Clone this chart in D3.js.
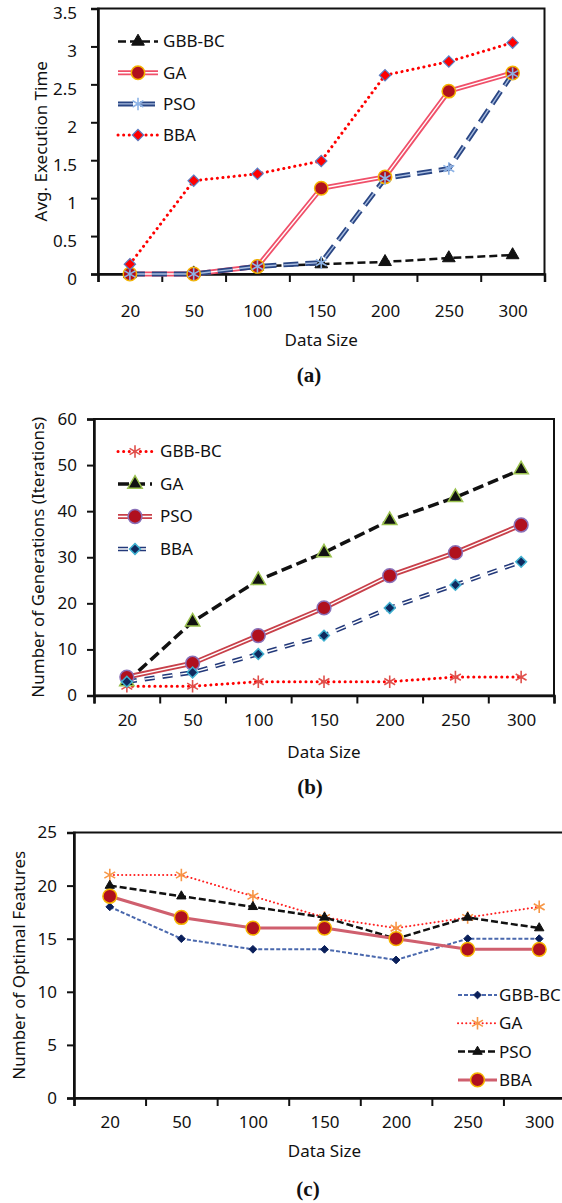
<!DOCTYPE html>
<html>
<head>
<meta charset="utf-8">
<script src="https://cdn.jsdelivr.net/npm/d3@7"></script>
<style>
  body { margin: 0; background: #fff; }
  text { fill: #111; }
</style>
</head>
<body>
<div id="chart-area"></div>
<script>
// Data
const categories = ['20', '50', '100', '150', '200', '250', '300'];

// (a) avg execution time
const timeGBB = [0, 0.01, 0.1, 0.13, 0.16, 0.21, 0.25];
const timeGA  = [0, 0, 0.1, 1.13, 1.28, 2.41, 2.65];
const timePSO = [0, 0, 0.1, 0.15, 1.26, 1.39, 2.64];
const timeBBA = [0.13, 1.23, 1.32, 1.49, 2.62, 2.8, 3.05];
const timeTicks = [0, 0.5, 1, 1.5, 2, 2.5, 3, 3.5];

// (b) number of generations
const genGBB = [2, 2, 3, 3, 3, 4, 4];
const genGA  = [3, 16, 25, 31, 38, 43, 49];
const genPSO = [4, 7, 13, 19, 26, 31, 37];
const genBBA = [3, 5, 9, 13, 19, 24, 29];
const genTicks = [0, 10, 20, 30, 40, 50, 60];

// (c) number of optimal features
const featGBB = [18, 15, 14, 14, 13, 15, 15];
const featGA  = [21, 21, 19, 17, 16, 17, 18];
const featPSO = [20, 19, 18, 17, 15, 17, 16];
const featBBA = [19, 17, 16, 16, 15, 14, 14];
const featTicks = [0, 5, 10, 15, 20, 25];

const sans = '"Noto Sans", sans-serif';

const svg = d3.select('#chart-area')
  .append('svg')
    .attr('width', 562)
    .attr('height', 1203);

// square diamond (d3.symbolDiamond is too tall)
const symbolRhomb = {
  draw(context, size) {
    const r = Math.sqrt(size / 2);
    context.moveTo(0, -r);
    context.lineTo(r, 0);
    context.lineTo(0, r);
    context.lineTo(-r, 0);
    context.closePath();
  }
};

// Line / marker styles
const styles = {
  blackDash:  { color: '#111', width: 2.5, dash: '8,4' },
  redDouble:  { color: '#f0506a', width: 5, inner: '#fff', innerWidth: 1.4 },
  navyDash:   { color: '#2a4684', width: 5, dash: '15,7', inner: '#a9bde0', innerWidth: 1.4 },
  redDots:    { color: '#ff0000', width: 3, dash: '0.1,5.5', cap: 'round' },
  blackDash2: { color: '#111', width: 3.5, dash: '11,5' },
  redDouble2: { color: '#c8404a', width: 5, inner: '#fff', innerWidth: 1.4 },
  navyDash2:  { color: '#23397a', width: 4.5, dash: '10,8', inner: '#fff', innerWidth: 1.4 },
  blueDash:   { color: '#4a68ad', width: 2, dash: '4,2' },
  redDotsThin:{ color: '#ff2020', width: 2, dash: '0.1,4', cap: 'round' },
  blackDash3: { color: '#111', width: 2.5, dash: '7,3' },
  pinkSolid:  { color: '#cf5f6e', width: 3 }
};

const markers = {
  triBlack:   { type: d3.symbolTriangle, size: 70, fill: '#111', stroke: '#111', sw: 1 },
  circYellow: { type: d3.symbolCircle, size: 140, fill: '#b0101e', stroke: '#f5b400', sw: 1.5 },
  starBlue:   { type: d3.symbolAsterisk, size: 110, fill: 'none', stroke: '#8db3e6', sw: 1.6 },
  diaRed:     { type: symbolRhomb, size: 64, fill: '#ff0000', stroke: '#5b7ec4', sw: 1.2 },
  starRed:    { type: d3.symbolAsterisk, size: 110, fill: 'none', stroke: '#e0504c', sw: 1.6 },
  triGreen:   { type: d3.symbolTriangle, size: 90, fill: '#111', stroke: '#9bc24f', sw: 1.5 },
  circPurple: { type: d3.symbolCircle, size: 150, fill: '#b0101e', stroke: '#8a70b8', sw: 1.5 },
  diaCyan:    { type: symbolRhomb, size: 58, fill: '#10295e', stroke: '#3fb0d0', sw: 1.5 },
  diaNavy:    { type: symbolRhomb, size: 30, fill: '#0a1f5a', stroke: '#0a1f5a', sw: 1 },
  starOrange: { type: d3.symbolAsterisk, size: 110, fill: 'none', stroke: '#f79646', sw: 1.6 },
  triSmall:   { type: d3.symbolTriangle, size: 38, fill: '#111', stroke: '#111', sw: 1 },
  circBig:    { type: d3.symbolCircle, size: 150, fill: '#b0101e', stroke: '#f5b400', sw: 1.5 }
};

function strokeLine(sel, st) {
  sel.attr('fill', 'none')
    .attr('stroke', st.color)
    .attr('stroke-width', st.width)
    .attr('stroke-dasharray', st.dash || null)
    .attr('stroke-linecap', st.cap || 'butt')
    .attr('stroke-linejoin', 'round');
}

function drawLine(g, pathD, st) {
  g.append('path').attr('d', pathD).call(strokeLine, st);
  if (st.inner) {
    g.append('path').attr('d', pathD)
      .call(strokeLine, st)
      .attr('stroke', st.inner)
      .attr('stroke-width', st.innerWidth);
  }
}

function drawMarker(g, mk, cx, cy) {
  g.append('path')
    .attr('d', d3.symbol().type(mk.type).size(mk.size)())
    .attr('transform', 'translate(' + cx + ',' + cy + ')')
    .attr('fill', mk.fill)
    .attr('stroke', mk.stroke)
    .attr('stroke-width', mk.sw);
}

function drawPanel(p) {
  const g = svg.append('g');
  const n = categories.length;
  const step = (p.right - p.left) / n;

  const x = d3.scalePoint()
    .domain(categories)
    .range([p.left + step / 2, p.right - step / 2]);
  const edge = d3.scaleLinear()
    .domain([0, n])
    .range([p.left, p.right]);
  const y = d3.scaleLinear()
    .domain([0, p.ticks[p.ticks.length - 1]])
    .range([p.bottom, p.top]);

  // frame
  g.append('rect')
    .attr('x', p.left).attr('y', p.top)
    .attr('width', p.right - p.left).attr('height', p.bottom - p.top)
    .attr('fill', 'none').attr('stroke', '#111').attr('stroke-width', 2);

  // Y Axis
  const yAxis = g.append('g')
    .attr('transform', 'translate(' + p.left + ',0)')
    .call(d3.axisLeft(y).tickValues(p.ticks).tickSize(7).tickPadding(p.yPad)
      .tickFormat(d3.format('')));
  yAxis.select('.domain').attr('stroke', '#111').attr('stroke-width', 2.5);
  yAxis.selectAll('.tick line').attr('stroke', '#111').attr('stroke-width', 2);
  yAxis.selectAll('text')
    .attr('dy', p.yDy)
    .style('font-size', '17px')
    .style('font-family', sans)
    .style('fill', '#111');

  // X Axis: boundary ticks
  const xEdge = g.append('g')
    .attr('transform', 'translate(0,' + p.bottom + ')')
    .call(d3.axisBottom(edge).tickValues(d3.range(n + 1)).tickSize(8).tickFormat(''));
  xEdge.select('.domain').attr('stroke', '#111').attr('stroke-width', 2.5);
  xEdge.selectAll('.tick line').attr('stroke', '#111').attr('stroke-width', 2);

  // X Axis: labels
  const xLab = g.append('g')
    .attr('transform', 'translate(0,' + (p.labelY - 6) + ')')
    .call(d3.axisBottom(x).tickSize(0).tickPadding(0));
  xLab.select('.domain').remove();
  xLab.selectAll('text')
    .style('font-size', '17px')
    .style('font-family', sans)
    .style('fill', '#111');

  // series
  const line = d3.line()
    .x((d, i) => x(categories[i]))
    .y((d) => y(d));

  p.series.forEach((s) => {
    drawLine(g, line(s.values), styles[s.line]);
  });
  p.series.forEach((s) => {
    s.values.forEach((v, i) => drawMarker(g, markers[s.marker], x(categories[i]), y(v)));
  });

  // Legend
  p.series.forEach((s, i) => {
    const ly = p.legend.y + i * p.legend.gap;
    const row = g.append('g');
    drawLine(row, d3.line()([[p.legend.x0, ly], [p.legend.x1, ly]]), styles[s.line]);
    drawMarker(row, markers[s.marker], (p.legend.x0 + p.legend.x1) / 2, ly);
    row.append('text')
      .attr('x', p.legend.tx)
      .attr('y', ly)
      .attr('dy', '0.35em')
      .style('font-size', '17px')
      .style('font-family', sans)
      .text(s.name);
  });

  // Labels
  g.append('text')
    .attr('x', (p.left + p.right) / 2)
    .attr('y', p.xTitleY)
    .attr('dy', '0.35em')
    .attr('text-anchor', 'middle')
    .style('font-size', '17px')
    .style('font-family', sans)
    .text('Data Size');

  g.append('text')
    .attr('transform', 'translate(' + p.yTitleX + ',' + ((p.top + p.bottom) / 2) + ') rotate(-90)')
    .attr('dy', '0.35em')
    .attr('text-anchor', 'middle')
    .style('font-size', '17px')
    .style('font-family', sans)
    .text(p.yTitle);

  g.append('text')
    .attr('x', p.capX)
    .attr('y', p.capY)
    .attr('dy', '0.35em')
    .attr('text-anchor', 'middle')
    .style('font-family', '"Liberation Serif", "Times New Roman", serif')
    .style('font-weight', 'bold')
    .style('font-size', '21px')
    .text(p.caption);
}

drawPanel({
  left: 98, right: 544.5, top: 8.5, bottom: 274,
  ticks: timeTicks, yPad: 14, yDy: '0.6em',
  labelY: 311, xTitleY: 340, yTitleX: 41, capX: 309, capY: 375,
  yTitle: 'Avg. Execution Time', caption: '(a)',
  legend: { x0: 118, x1: 158, tx: 163, y: 41.5, gap: 31.2 },
  series: [
    { name: 'GBB-BC', values: timeGBB, line: 'blackDash', marker: 'triBlack' },
    { name: 'GA', values: timeGA, line: 'redDouble', marker: 'circYellow' },
    { name: 'PSO', values: timePSO, line: 'navyDash', marker: 'starBlue' },
    { name: 'BBA', values: timeBBA, line: 'redDots', marker: 'diaRed' }
  ]
});

drawPanel({
  left: 94, right: 554, top: 419, bottom: 695.5,
  ticks: genTicks, yPad: 10, yDy: '0.32em',
  labelY: 720, xTitleY: 752, yTitleX: 38, capX: 310, capY: 787,
  yTitle: 'Number of Generations (Iterations)', caption: '(b)',
  legend: { x0: 118, x1: 152, tx: 160, y: 451.5, gap: 32.5 },
  series: [
    { name: 'GBB-BC', values: genGBB, line: 'redDots', marker: 'starRed' },
    { name: 'GA', values: genGA, line: 'blackDash2', marker: 'triGreen' },
    { name: 'PSO', values: genPSO, line: 'redDouble2', marker: 'circPurple' },
    { name: 'BBA', values: genBBA, line: 'navyDash2', marker: 'diaCyan' }
  ]
});

drawPanel({
  left: 74, right: 575, top: 832.5, bottom: 1098,
  ticks: featTicks, yPad: 10, yDy: '0.32em',
  labelY: 1122, xTitleY: 1151, yTitleX: 19, capX: 308, capY: 1189,
  yTitle: 'Number of Optimal Features', caption: '(c)',
  legend: { x0: 458, x1: 497, tx: 499, y: 995, gap: 28.3 },
  series: [
    { name: 'GBB-BC', values: featGBB, line: 'blueDash', marker: 'diaNavy' },
    { name: 'GA', values: featGA, line: 'redDotsThin', marker: 'starOrange' },
    { name: 'PSO', values: featPSO, line: 'blackDash3', marker: 'triSmall' },
    { name: 'BBA', values: featBBA, line: 'pinkSolid', marker: 'circBig' }
  ]
});
</script>
</body>
</html>
